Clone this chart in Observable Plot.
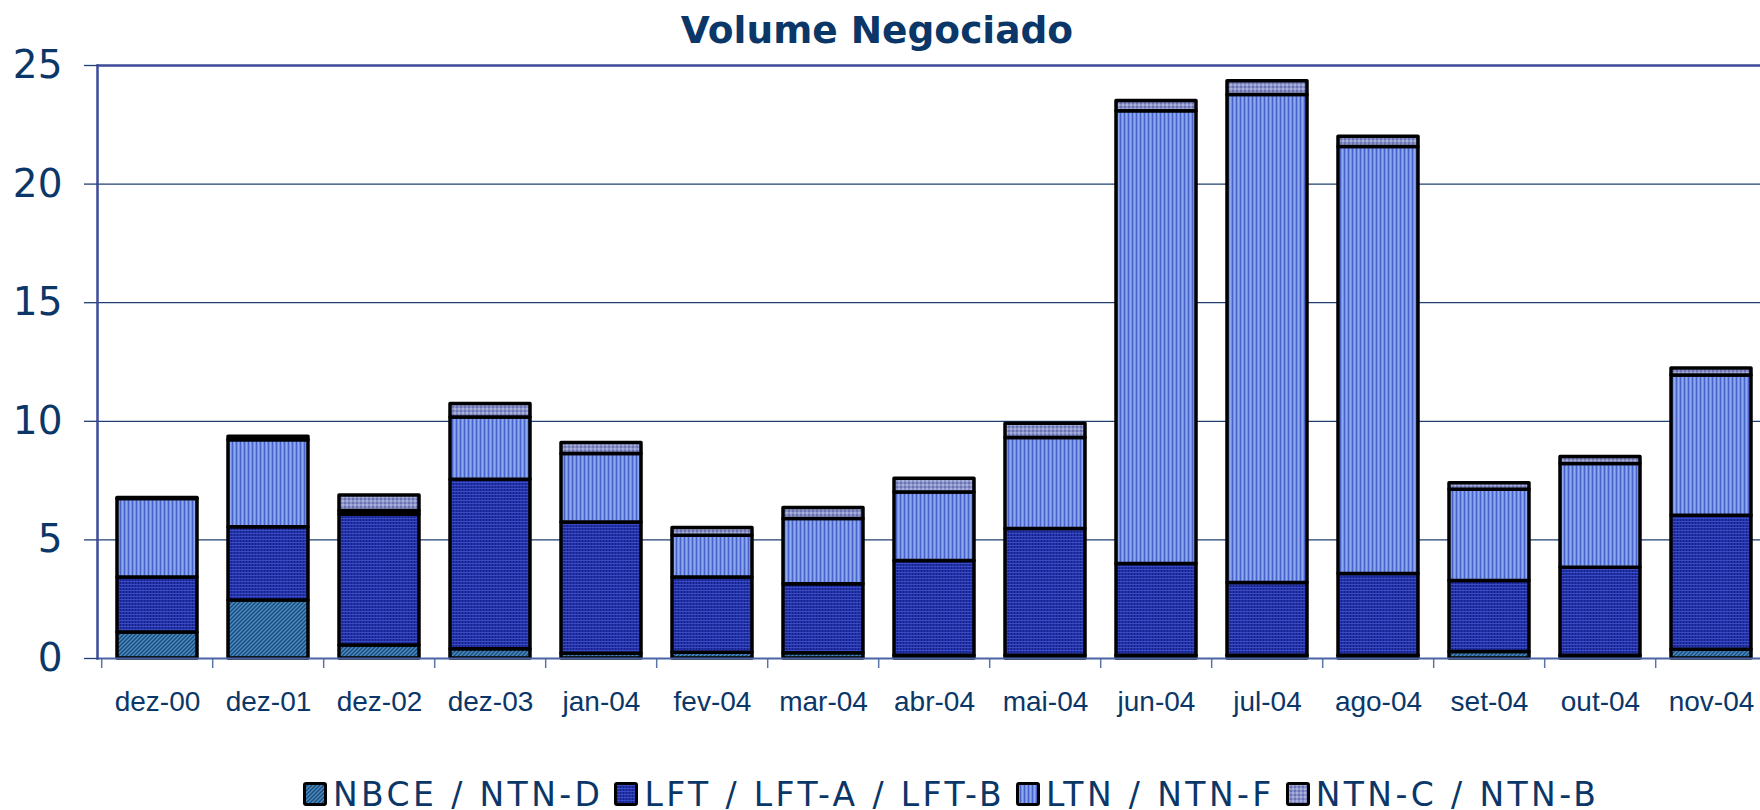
<!DOCTYPE html>
<html>
<head>
<meta charset="utf-8">
<script src="https://cdn.jsdelivr.net/npm/d3@7"></script>
<script src="https://cdn.jsdelivr.net/npm/@observablehq/plot@0.6"></script>
<style>
  html, body { margin: 0; padding: 0; background: #fff; overflow: hidden; width: 1760px; height: 810px; }
  #title { position: relative; height: 50px; }
  #title span { position: absolute; left: 877px; top: 5px; transform: translateX(-50%); white-space: nowrap;
    font: bold 37.5px/50px "DejaVu Sans", Verdana, sans-serif; color: #0b3768; }
  #chart { height: 690px; width: 1800px; }
  #chart svg { display: block; max-width: none !important; }
  #legend { height: 70px; box-sizing: border-box; padding-top: 38px; padding-left: 303px;
    display: flex; align-items: center; line-height: 33px; white-space: nowrap;
    font: 33px/33px "DejaVu Sans", Verdana, sans-serif; color: #0b3768; letter-spacing: 3.4px; }
  .item { display: flex; align-items: center; margin-right: 11px; }
  .item svg { width: 24px; height: 24px; margin-right: 6px; flex: none; }
</style>
</head>
<body>
<svg width="0" height="0" style="position:absolute">
  <defs>
    <pattern id="pNBCE" patternUnits="userSpaceOnUse" width="4" height="4">
      <rect width="4" height="4" fill="#4a8ac0"/>
      <path d="M-1,1 l2,-2 M0,4 l4,-4 M3,5 l2,-2" stroke="#1a4a78" stroke-width="1.3"/>
    </pattern>
    <pattern id="pLFT" patternUnits="userSpaceOnUse" width="3" height="3">
      <rect width="3" height="3" fill="#2432a8"/>
      <rect x="0" y="0" width="1" height="3" fill="#15208a"/>
      <rect x="0" y="0" width="3" height="1" fill="#3a4cc4"/>
    </pattern>
    <pattern id="pLTN" patternUnits="userSpaceOnUse" width="4" height="4">
      <rect width="4" height="4" fill="#7290e2"/>
      <rect x="0" width="1" height="4" fill="#4864cc"/>
      <rect x="2" width="1" height="4" fill="#90aaf0"/>
    </pattern>
    <pattern id="pNTNC" patternUnits="userSpaceOnUse" width="4" height="4">
      <rect width="4" height="4" fill="#8a92c8"/>
      <rect x="0" y="0" width="2" height="2" fill="#6a74b4"/>
      <rect x="2" y="2" width="2" height="2" fill="#a8b0dc"/>
    </pattern>
  </defs>
</svg>
<div id="title"><span>Volume Negociado</span></div>
<div id="chart"></div>
<div id="legend"></div>
<script>
// ---- data ----
const months = ["dez-00","dez-01","dez-02","dez-03","jan-04","fev-04","mar-04","abr-04","mai-04","jun-04","jul-04","ago-04","set-04","out-04","nov-04"];
const series = ["NBCE / NTN-D", "LFT / LFT-A / LFT-B", "LTN / NTN-F", "NTN-C / NTN-B"];
const nbce = [1.10, 2.45, 0.55, 0.39, 0.20, 0.24, 0.22, 0.12, 0.12, 0.12, 0.12, 0.12, 0.27, 0.12, 0.37];
const lft  = [2.32, 3.08, 5.52, 7.15, 5.53, 3.17, 2.91, 3.99, 5.34, 3.86, 3.06, 3.44, 3.00, 3.71, 5.65];
const ltn  = [3.30, 3.67, 0.15, 2.62, 2.89, 1.77, 2.75, 2.89, 3.84, 19.09, 20.58, 18.00, 3.84, 4.37, 5.91];
const ntnc = [0.05, 0.15, 0.65, 0.57, 0.47, 0.32, 0.47, 0.58, 0.60, 0.43, 0.58, 0.44, 0.28, 0.30, 0.30];
const yTicks = [0, 5, 10, 15, 20, 25];
const patterns = ["url(#pNBCE)", "url(#pLFT)", "url(#pLTN)", "url(#pNTNC)"];

const valuesBySeries = [nbce, lft, ltn, ntnc];
const data = [];
series.forEach((s, si) => months.forEach((m, i) => data.push({month: m, series: s, value: valuesBySeries[si][i]})));

// ---- layout ----
const W = 1800, H = 690;
const marginLeft = 97, marginRight = W - 1771.5, marginTop = 15, marginBottom = 82;
const step = (W - marginLeft - marginRight) / months.length;

const chart = Plot.plot({
  width: W, height: H,
  marginLeft, marginRight, marginTop, marginBottom,
  style: {fontFamily: "DejaVu Sans", color: "#0b3768", background: "white", overflow: "visible", maxWidth: "none"},
  x: {domain: months, paddingInner: 0.283, paddingOuter: 0.1415, label: null},
  y: {domain: [0, 25], label: null},
  color: {domain: series, range: patterns},
  marks: [
    Plot.gridY(yTicks.filter(t => t > 0 && t < 25), {stroke: "#1f4070", strokeOpacity: 1, strokeWidth: 1.3}),
    Plot.barY(data, {x: "month", y: "value", fill: "series", stroke: "#000", strokeWidth: 3.5, strokeLinejoin: "round"}),
    Plot.ruleY([25], {stroke: "#3c4a9a", strokeWidth: 2.5}),
    Plot.ruleX(months, {x: d => d, y1: 0, y2: 0, dx: -step / 2, insetBottom: -10, stroke: "#5874a8", strokeWidth: 1.5}),
    Plot.ruleY([0], {stroke: "#4a64a4", strokeWidth: 2}),
    Plot.frame({anchor: "left", stroke: "#3c4a9a", strokeWidth: 2.5}),
    Plot.axisY({ticks: yTicks, tickSize: 13, text: null, stroke: "#1f4070", strokeWidth: 1.3}),
    Plot.axisY({ticks: yTicks, tickSize: 0, tickPadding: 35, fontSize: 39, fill: "#0b3768", fontFamily: "DejaVu Sans"}),
    Plot.axisX({tickSize: 0, tickPadding: 33, fontSize: 28, fontFamily: "Liberation Sans, Arial, sans-serif", fill: "#0b3768"})
  ]
});
document.getElementById("chart").appendChild(chart);

// ---- legend ----
const legend = document.getElementById("legend");
series.forEach((s, i) => {
  const item = document.createElement("div");
  item.className = "item";
  item.innerHTML = `<svg viewBox="0 0 24 24"><rect x="1.5" y="1.5" width="21" height="21" rx="1.5" fill="${patterns[i]}" stroke="#000" stroke-width="3"/></svg><span>${s}</span>`;
  legend.appendChild(item);
});
</script>
</body>
</html>
